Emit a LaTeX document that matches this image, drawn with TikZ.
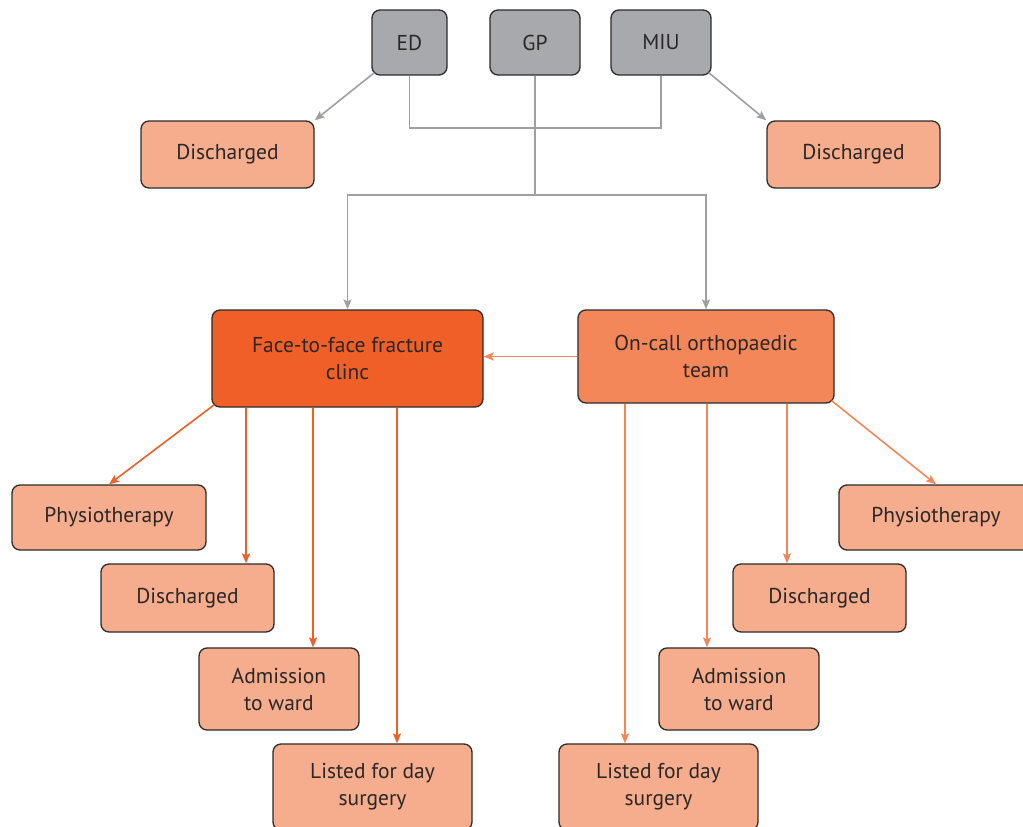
\documentclass[tikz,border=0pt]{standalone}
\usepackage{fontspec}
\setmainfont{PT Sans}
\usetikzlibrary{arrows.meta}
\definecolor{greyfill}{HTML}{A7A9AC}
\definecolor{salmon}{HTML}{F6AD8E}
\definecolor{deeporange}{HTML}{EF5F27}
\definecolor{midorange}{HTML}{F3875A}
\definecolor{boxline}{HTML}{2E2B2A}
\definecolor{txt}{HTML}{2B2726}
\definecolor{greyline}{HTML}{9D9FA2}
\tikzset{
  basebox/.style={draw=boxline, line width=1.3pt, rounded corners=8pt, align=center, text=txt,
    font=\fontsize{21.5}{27}\selectfont, inner sep=0pt},
  greybox/.style={basebox, fill=greyfill},
  leafbox/.style={basebox, fill=salmon},
  ffbox/.style={basebox, fill=deeporange},
  ocbox/.style={basebox, fill=midorange},
  tip/.style={-{Stealth[length=10pt,width=8pt,inset=2pt]}},
  greyarrow/.style={draw=greyline, line width=1.6pt},
  ffarrow/.style={draw=deeporange, line width=1.6pt},
  ocarrow/.style={draw=midorange, line width=1.6pt},
}
\begin{document}
\begin{tikzpicture}[x=1pt,y=-1pt]
\useasboundingbox (0,0) rectangle (1023,827);
% top sources
\node[greybox, minimum width=75pt, minimum height=65pt] (ed) at (409.5,42.5) {ED};
\node[greybox, minimum width=90pt, minimum height=65pt] (gp) at (535,42.5) {GP};
\node[greybox, minimum width=100pt, minimum height=65pt] (miu) at (661,42.5) {MIU};
\node[leafbox, minimum width=173pt, minimum height=67pt] (dl) at (227.5,154.5) {Discharged};
\node[leafbox, minimum width=173pt, minimum height=67pt] (dr) at (853.5,154.5) {Discharged};
% middle
\node[ffbox, minimum width=271pt, minimum height=97pt] (ff) at (347.5,358.5) {Face-to-face fracture\\clinc};
\node[ocbox, minimum width=256pt, minimum height=93pt] (oc) at (706,356.5) {On-call orthopaedic\\team};
% left leaves
\node[leafbox, minimum width=194pt, minimum height=65pt] (pl) at (109,517.5) {Physiotherapy};
\node[leafbox, minimum width=173pt, minimum height=68pt] (dl2) at (187.5,598) {Discharged};
\node[leafbox, minimum width=160pt, minimum height=82pt] (al) at (279,689) {Admission\\to ward};
\node[leafbox, minimum width=199pt, minimum height=86pt] (ll) at (372.5,787) {Listed for day\\surgery};
% right leaves
\node[leafbox, minimum width=194pt, minimum height=65pt] (pr) at (936,517.5) {Physiotherapy};
\node[leafbox, minimum width=173pt, minimum height=68pt] (dr2) at (819.5,598) {Discharged};
\node[leafbox, minimum width=160pt, minimum height=82pt] (ar) at (739,689) {Admission\\to ward};
\node[leafbox, minimum width=199pt, minimum height=86pt] (lr) at (658.5,787) {Listed for day\\surgery};
% junction coordinates
\coordinate (j1) at (535,128);
\coordinate (j2) at (535,195);
% grey connectors
\draw[greyarrow, tip] ([shift={(3pt,3pt)}]ed.south west) -- (dl.north east);
\draw[greyarrow, tip] ([shift={(-3pt,3pt)}]miu.south east) -- (dr.north west);
\draw[greyarrow] (ed.south) |- (j1) -| (miu.south);
\draw[greyarrow] (gp.south) -- (j2);
\draw[greyarrow, tip] (j2) -| (ff.north);
\draw[greyarrow, tip] (j2) -| (oc.north);
% on-call to face-to-face
\draw[ocarrow, tip] (oc.west) -- (ff.east |- oc.west);
% face-to-face outputs
\draw[ffarrow, tip] ([shift={(3pt,3pt)}]ff.south west) -- (pl.north);
\draw[ffarrow, tip] (ff.south -| 246,0) -- (dl2.north -| 246,0);
\draw[ffarrow, tip] (ff.south -| 313,0) -- (al.north -| 313,0);
\draw[ffarrow, tip] (ff.south -| 397,0) -- (ll.north -| 397,0);
% on-call outputs
\draw[ocarrow, tip] (oc.south -| 625,0) -- (lr.north -| 625,0);
\draw[ocarrow, tip] (oc.south -| 707,0) -- (ar.north -| 707,0);
\draw[ocarrow, tip] (oc.south -| 787,0) -- (dr2.north -| 787,0);
\draw[ocarrow, tip] ([shift={(-3pt,3pt)}]oc.south east) -- (pr.north);
\end{tikzpicture}
\end{document}
